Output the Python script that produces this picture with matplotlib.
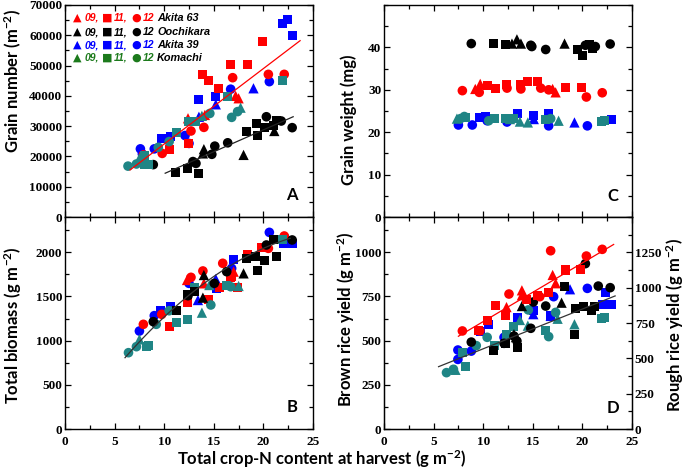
import numpy as np
import matplotlib
matplotlib.use('Agg')
import matplotlib.pyplot as plt
from matplotlib.ticker import MultipleLocator

plt.rcParams['font.family'] = 'serif'
plt.rcParams['font.serif'] = ['Liberation Serif', 'Nimbus Roman', 'DejaVu Serif']
plt.rcParams['font.weight'] = 'bold'
plt.rcParams['mathtext.default'] = 'regular'

# ---- data ----
# panel A: grain number (m-2)
A_a63_x = [13.9, 14.5, 15.5, 16.7, 18.4, 19.9, 12.4, 10.5, 16.9, 14.0, 12.7, 9.8, 20.5, 22.1, 7.9, 17.2, 17.5, 14.1, 12.4]
A_a63_y = [47200, 45200, 42500, 50200, 50500, 57900, 24300, 22400, 46000, 29600, 28400, 21000, 47100, 47100, 20500, 40000, 39200, 33700, 32600]
A_a63_yr = ['11'] * 8 + ['12'] * 7 + ['09'] * 4
A_ooc_x = [11.1, 12.3, 13.5, 18.3, 19.3, 19.4, 20.1, 21.0, 21.3, 8.9, 12.9, 13.2, 14.8, 15.1, 16.4, 20.3, 21.8, 22.9, 14.0, 13.9, 18.0, 21.1]
A_ooc_y = [14600, 16100, 14200, 28200, 30900, 26900, 29600, 30200, 32000, 17300, 18300, 17700, 20700, 23400, 24500, 33100, 31700, 29500, 22400, 21000, 20500, 28400]
A_ooc_yr = ['11'] * 9 + ['12'] * 9 + ['09'] * 4
A_a39_x = [21.9, 22.4, 22.9, 13.5, 15.2, 9.7, 10.6, 19.0, 15.2, 13.5, 20.6, 16.7, 12.1, 12.5, 7.6, 9.0, 7.8]
A_a39_y = [64000, 65300, 59800, 38900, 39700, 26000, 26500, 42500, 37200, 33100, 44700, 42200, 26900, 24300, 22500, 22500, 20800]
A_a39_yr = ['11'] * 7 + ['09'] * 3 + ['12'] * 7
A_kom_x = [21.9, 16.4, 12.4, 13.2, 11.2, 8.0, 8.0, 8.4, 6.35, 7.2, 9.4, 10.5, 14.6, 16.8, 17.4, 17.7, 13.8, 7.5]
A_kom_y = [45200, 39700, 31500, 31500, 27800, 20200, 17400, 17300, 16800, 17500, 23000, 24900, 34200, 32900, 34800, 36100, 33400, 19400]
A_kom_yr = ['11'] * 8 + ['12'] * 7 + ['09'] * 3

# panel B: total biomass (g m-2)
B_a63_x = [7.9, 9.75, 12.7, 13.9, 15.9, 22.1, 20.5, 10.5, 12.3, 14.5, 15.55, 16.8, 17.4, 18.4, 19.8, 16.7, 14.0, 17.0, 12.3]
B_a63_y = [1185, 1298, 1717, 1789, 1876, 2185, 2045, 1166, 1430, 1468, 1600, 1732, 1600, 1970, 2052, 1717, 1649, 1781, 1687]
B_a63_yr = ['12'] * 7 + ['11'] * 9 + ['09'] * 3
B_ooc_x = [8.9, 12.4, 15.05, 16.3, 20.3, 22.9, 11.2, 12.3, 13.1, 18.3, 19.25, 20.1, 21.3, 19.4, 21.0, 14.0, 13.9, 18.0]
B_ooc_y = [1215, 1509, 1649, 1781, 2083, 2140, 1347, 1517, 1554, 1932, 1951, 1902, 1958, 1789, 2140, 1743, 1487, 1762]
B_ooc_yr = ['12'] * 6 + ['11'] * 9 + ['09'] * 3
B_a39_x = [20.6, 7.5, 9.0, 12.5, 16.8, 17.0, 9.6, 10.6, 22.0, 22.9, 15.3, 13.4, 15.2, 22.5]
B_a39_y = [2226, 1109, 1283, 1649, 1819, 1921, 1336, 1385, 2102, 2102, 1593, 1460, 1698, 2150]
B_a39_yr = ['12'] * 5 + ['11'] * 6 + ['09'] * 3
B_kom_x = [6.4, 7.2, 9.2, 10.5, 14.7, 16.7, 8.2, 8.4, 11.2, 12.3, 13.1, 16.3, 21.9, 7.5, 13.8, 14.55, 17.5]
B_kom_y = [864, 932, 1185, 1339, 1404, 1611, 932, 943, 1203, 1242, 1600, 1630, 2140, 1015, 1317, 1630, 1619]
B_kom_yr = ['12'] * 6 + ['11'] * 7 + ['09'] * 4

# panel C: grain weight (mg)
C_a63_x = [7.9, 9.6, 12.4, 13.8, 15.8, 16.6, 20.4, 22.0, 10.4, 11.2, 12.3, 13.8, 14.5, 15.5, 18.3, 19.9, 9.7, 9.2, 17.0, 17.3]
C_a63_y = [29.8, 29.4, 30.4, 30.2, 30.4, 30.0, 28.3, 29.3, 31.0, 30.4, 31.2, 31.2, 32.0, 32.0, 30.5, 30.5, 31.4, 30.2, 30.2, 29.4]
C_a63_yr = ['12'] * 8 + ['11'] * 8 + ['09'] * 4
C_ooc_x = [8.8, 14.9, 16.3, 20.3, 21.3, 22.8, 14.8, 11.0, 12.25, 19.5, 20.0, 20.7, 21.0, 13.4, 12.9, 13.8, 18.2]
C_ooc_y = [40.9, 40.2, 39.5, 40.5, 40.2, 40.8, 40.5, 40.9, 40.7, 39.5, 38.0, 40.8, 39.7, 41.9, 40.9, 40.9, 40.9]
C_ooc_yr = ['12'] * 7 + ['11'] * 6 + ['09'] * 4
C_a39_x = [7.5, 8.9, 12.4, 16.6, 20.5, 10.4, 9.65, 10.2, 13.5, 15.1, 16.6, 22.9, 15.1, 19.2]
C_a39_y = [21.7, 21.7, 22.4, 21.5, 21.5, 22.7, 23.5, 23.6, 24.3, 24.0, 24.3, 23.1, 23.1, 22.3]
C_a39_yr = ['12'] * 6 + ['11'] * 6 + ['09'] * 2
C_kom_x = [7.7, 8.1, 10.55, 16.8, 8.2, 11.1, 12.25, 13.1, 16.3, 21.9, 22.2, 7.35, 12.7, 13.7, 14.5, 17.6]
C_kom_y = [23.2, 23.7, 22.7, 23.2, 23.5, 23.3, 23.3, 23.3, 22.9, 22.5, 22.7, 23.2, 23.1, 22.5, 22.3, 22.7]
C_kom_yr = ['12'] * 4 + ['11'] * 7 + ['09'] * 5

# panel D: brown rice yield (g m-2)
D_a63_x = [16.8, 20.4, 22.0, 12.6, 7.9, 9.65, 15.7, 11.2, 12.25, 10.4, 18.3, 19.8, 16.6, 14.4, 15.5, 9.55, 17.0, 17.3, 13.9, 12.35, 13.9]
D_a63_y = [1009, 979, 1017, 764, 555, 556, 749, 700, 645, 615, 900, 904, 775, 734, 753, 555, 872, 825, 785, 690, 757]
D_a63_yr = ['12'] * 7 + ['11'] * 9 + ['09'] * 5
D_ooc_x = [20.3, 21.6, 22.8, 16.3, 15.05, 8.8, 13.1, 13.4, 14.8, 12.1, 18.2, 19.3, 20.1, 20.9, 21.2, 19.2, 11.0, 12.25, 13.5, 13.9, 17.9, 13.1, 13.3]
D_ooc_y = [936, 809, 800, 696, 719, 492, 526, 498, 570, 485, 809, 681, 691, 668, 691, 536, 445, 483, 462, 696, 715, 536, 520]
D_ooc_yr = ['12'] * 10 + ['11'] * 9 + ['09'] * 4
D_a39_x = [20.5, 17.1, 7.45, 8.8, 7.45, 12.1, 10.55, 9.7, 13.5, 15.1, 16.8, 22.3, 22.0, 22.9, 18.75, 15.05, 16.8]
D_a39_y = [796, 749, 447, 441, 394, 519, 589, 551, 630, 672, 645, 772, 706, 706, 791, 650, 640]
D_a39_yr = ['12'] * 6 + ['11'] * 8 + ['09'] * 3
D_kom_x = [6.3, 7.0, 9.3, 10.4, 14.55, 17.3, 16.6, 8.2, 7.95, 11.1, 12.35, 13.1, 16.3, 21.9, 22.2, 7.2, 13.7, 14.5, 17.5, 19.2]
D_kom_y = [319, 338, 472, 519, 674, 660, 523, 353, 432, 472, 536, 583, 555, 626, 632, 335, 617, 585, 624, 593]
D_kom_yr = ['12'] * 7 + ['11'] * 8 + ['09'] * 5

# fitted lines (coefficients, highest power first) and x range
fitA_all = [2490, -790]
fitA_all_rng = [6.55, 23.7]
fitA_ooc = [1446, -150]
fitA_ooc_rng = [10.1, 23.0]
fitB = [-2.80, 161.7, -68.8]
fitB_rng = [6.05, 22.7]
fitD_red = [33.2, 276]
fitD_red_rng = [7.5, 23.15]
fitD_blk = [22.5, 229]
fitD_blk_rng = [5.5, 23.3]

cultivars = ['Akita 63', 'Oochikara', 'Akita 39', 'Komachi']
years = ['09', '11', '12']

RED = '#ff0000'
BLK = '#000000'
BLU = '#0000ff'
TEAL = '#1f8585'
GREEN = '#1c7a1c'
markers = {'09': '^', '11': 's', '12': 'o'}
msize = {'09': 55, '11': 42, '12': 48}

fig = plt.figure(figsize=(6.85, 4.73), dpi=100)
W, H = 685.0, 473.0


def make_ax(l, r, t, b):
    return fig.add_axes([l / W, 1 - b / H, (r - l) / W, (b - t) / H])


axA = make_ax(65, 313, 5, 217)
axB = make_ax(65, 313, 217, 429)
axC = make_ax(384, 632, 5, 217)
axD = make_ax(384, 632, 217, 429)


def draw(ax, x, y, yr, color):
    x = np.array(x)
    y = np.array(y)
    yr = np.array(yr)
    for k in years:
        m = yr == k
        ax.scatter(x[m], y[m], marker=markers[k], s=msize[k], color=color,
                   edgecolors='none', zorder=3)


def fit_line(ax, coef, rng, color, lw=0.9):
    xx = np.linspace(rng[0], rng[1], 100)
    ax.plot(xx, np.polyval(coef, xx), color=color, lw=lw, zorder=4)


draw(axA, A_a39_x, A_a39_y, A_a39_yr, BLU)
draw(axA, A_a63_x, A_a63_y, A_a63_yr, RED)
draw(axA, A_ooc_x, A_ooc_y, A_ooc_yr, BLK)
draw(axA, A_kom_x, A_kom_y, A_kom_yr, TEAL)
fit_line(axA, fitA_all, fitA_all_rng, RED)
fit_line(axA, fitA_ooc, fitA_ooc_rng, '#222222')

draw(axB, B_a39_x, B_a39_y, B_a39_yr, BLU)
draw(axB, B_a63_x, B_a63_y, B_a63_yr, RED)
draw(axB, B_kom_x, B_kom_y, B_kom_yr, TEAL)
draw(axB, B_ooc_x, B_ooc_y, B_ooc_yr, BLK)
fit_line(axB, fitB, fitB_rng, '#333333')

draw(axC, C_ooc_x, C_ooc_y, C_ooc_yr, BLK)
draw(axC, C_a63_x, C_a63_y, C_a63_yr, RED)
draw(axC, C_a39_x, C_a39_y, C_a39_yr, BLU)
draw(axC, C_kom_x, C_kom_y, C_kom_yr, TEAL)

draw(axD, D_a39_x, D_a39_y, D_a39_yr, BLU)
draw(axD, D_kom_x, D_kom_y, D_kom_yr, TEAL)
draw(axD, D_ooc_x, D_ooc_y, D_ooc_yr, BLK)
draw(axD, D_a63_x, D_a63_y, D_a63_yr, RED)
fit_line(axD, fitD_red, fitD_red_rng, RED)
fit_line(axD, fitD_blk, fitD_blk_rng, '#333333')

# axes styling
LBL = dict(family='Lato', weight='bold', fontsize=12)


def style_ticks(ax):
    for lab in ax.get_xticklabels() + ax.get_yticklabels():
        lab.set_family('serif')
        lab.set_weight('bold')


for ax in [axA, axB, axC, axD]:
    ax.set_xlim(0, 25)
    ax.xaxis.set_major_locator(MultipleLocator(5))
    ax.xaxis.set_minor_locator(MultipleLocator(2.5))
    ax.tick_params(which='both', direction='in', top=True, right=True,
                   labelsize=9.5, width=0.9, pad=2)
    ax.tick_params(axis='x', pad=5)
    ax.tick_params(which='major', length=4)
    ax.tick_params(which='minor', length=3)
    for s in ax.spines.values():
        s.set_linewidth(1.0)

axA.tick_params(labelbottom=False)
axC.tick_params(labelbottom=False)

axA.set_ylim(0, 70000)
axA.set_yticks(np.arange(0, 70001, 10000))
axA.yaxis.set_minor_locator(MultipleLocator(5000))
axA.set_ylabel('Grain number (m$^{-2}$)', **LBL)
axA.yaxis.set_label_coords(-0.165, 0.64)

axB.set_ylim(0, 2400)
axB.set_yticks(np.arange(0, 2001, 500))
axB.yaxis.set_minor_locator(MultipleLocator(250))
axB.set_ylabel('Total biomass (g m$^{-2}$)', **LBL)
axB.yaxis.set_label_coords(-0.165, 0.49)

axC.set_ylim(0, 50)
axC.set_yticks(np.arange(0, 41, 10))
axC.yaxis.set_minor_locator(MultipleLocator(5))
axC.set_ylabel('Grain weight (mg)', **LBL)
axC.yaxis.set_label_coords(-0.108, 0.46)

axD.set_ylim(0, 1200)
axD.set_yticks(np.arange(0, 1001, 250))
axD.yaxis.set_minor_locator(MultipleLocator(125))
axD.tick_params(which='both', right=False)
axD.set_ylabel('Brown rice yield (g m$^{-2}$)', **LBL)
axD.yaxis.set_label_coords(-0.108, 0.52)

axD2 = axD.twinx()
axD2.set_ylim(0, 1500)
axD2.set_yticks(np.arange(0, 1251, 250))
axD2.yaxis.set_minor_locator(MultipleLocator(125))
axD2.tick_params(which='both', direction='in', labelsize=9.5, width=0.9, pad=2)
axD2.tick_params(which='major', length=4)
axD2.tick_params(which='minor', length=3)
axD2.set_ylabel('Rough rice yield (g m$^{-2}$)', **LBL)
axD2.yaxis.set_label_coords(1.13, 0.49)

for ax in [axA, axB, axC, axD, axD2]:
    style_ticks(ax)

for ax, letter, xf, yf in [(axA, 'A', 0.915, 0.104), (axB, 'B', 0.915, 0.104),
                           (axC, 'C', 0.921, 0.099), (axD, 'D', 0.925, 0.101)]:
    ax.text(xf, yf, letter, transform=ax.transAxes, family='Lato',
            weight='bold', fontsize=12, ha='center', va='center')

fig.text(322 / W, 1 - 459 / H, 'Total crop-N content at harvest (g m$^{-2}$)',
         ha='center', va='center', **LBL)

# legend built from text pieces
leg_colors = [RED, BLK, BLU, GREEN]
leg_y = [0.939, 0.872, 0.811, 0.751]
glyphs = {'09': '\u25B2', '11': '\u25A0', '12': '\u25CF'}
glyph_x = [0.050, 0.169, 0.288]
num_x = [0.077, 0.198, 0.315]
num_txt = ['09,', '11,', '12']
for name, col, yy in zip(cultivars, leg_colors, leg_y):
    for k, gx, nx, nt in zip(years, glyph_x, num_x, num_txt):
        axA.text(gx, yy, glyphs[k], transform=axA.transAxes, color=col,
                 family='DejaVu Sans', fontsize=8, ha='center', va='center')
        axA.text(nx, yy, nt, transform=axA.transAxes, color=col,
                 family='Liberation Sans', weight='bold', style='italic',
                 fontsize=7.5, ha='left', va='center')
    axA.text(0.371, yy, name, transform=axA.transAxes, color='black',
             family='Liberation Sans', weight='bold', style='italic',
             fontsize=7.8, ha='left', va='center')

fig.savefig('out.png', dpi=100)
